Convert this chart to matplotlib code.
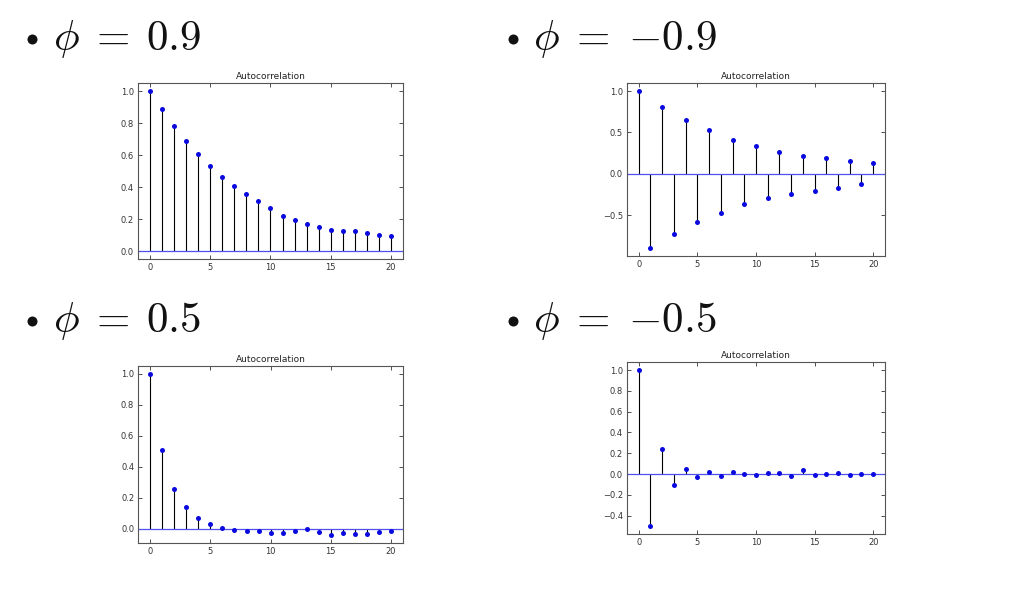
import matplotlib
matplotlib.use('Agg')
import matplotlib.pyplot as plt

plt.rcParams['mathtext.fontset'] = 'cm'

lags = list(range(21))

# autocorrelation values
acf_p09 = [1.0, 0.888, 0.783, 0.690, 0.606, 0.531, 0.462, 0.404, 0.356, 0.310, 0.267,
           0.221, 0.194, 0.167, 0.148, 0.133, 0.123, 0.123, 0.112, 0.102, 0.092]
acf_m09 = [1.0, -0.899, 0.806, -0.722, 0.649, -0.577, 0.528, -0.468, 0.411, -0.363, 0.331,
           -0.290, 0.262, -0.242, 0.218, -0.206, 0.185, -0.169, 0.149, -0.125, 0.125]
acf_p05 = [1.0, 0.510, 0.256, 0.138, 0.071, 0.030, 0.004, -0.006, -0.011, -0.015, -0.028,
           -0.028, -0.011, 0.0, -0.017, -0.037, -0.028, -0.032, -0.032, -0.017, -0.011]
acf_m05 = [1.0, -0.505, 0.240, -0.109, 0.051, -0.029, 0.016, -0.016, 0.016, 0.0, -0.006,
           0.010, 0.010, -0.019, 0.038, -0.006, 0.0, 0.010, -0.010, 0.0, 0.0]

headings = [r'$\phi\;=\:0.9$', r'$\phi\;=\;{-}0.9$', r'$\phi\;=\:0.5$', r'$\phi\;=\;{-}0.5$']
xticks = [0, 5, 10, 15, 20]
yticks = [[0.0, 0.2, 0.4, 0.6, 0.8, 1.0],
          [-0.5, 0.0, 0.5, 1.0],
          [0.0, 0.2, 0.4, 0.6, 0.8, 1.0],
          [-0.4, -0.2, 0.0, 0.2, 0.4, 0.6, 0.8, 1.0]]
series = [acf_p09, acf_m09, acf_p05, acf_m05]

fig = plt.figure(figsize=(10.36, 5.9), dpi=100)

# axes boxes [left, bottom, width, height] in figure fraction
boxes = [[0.1332, 0.561, 0.2558, 0.298],
         [0.6052, 0.566, 0.249, 0.293],
         [0.1335, 0.0802, 0.2553, 0.300],
         [0.6052, 0.0944, 0.249, 0.2915]]
# heading anchors: bullet centre x, text left x, baseline y
head_pos = [(0.0309, 0.0515, 0.9150), (0.4952, 0.5145, 0.9150),
            (0.0309, 0.0515, 0.4370), (0.4952, 0.5145, 0.4370)]

for i in range(4):
    ax = fig.add_axes(boxes[i])
    vals = series[i]
    ax.vlines(lags, 0, vals, color='black', linewidth=0.8)
    ax.axhline(0, color='#5050f0', linewidth=0.9)
    ax.plot(lags, vals, 'o', color='#0a0ae0', markersize=3.6, markeredgewidth=0)
    lo = min(min(vals), 0)
    hi = max(vals)
    pad = (hi - lo) * 0.05
    ax.set_ylim(lo - pad, hi + pad)
    ax.set_xlim(-1, 21)
    ax.set_xticks(xticks)
    ax.set_yticks(yticks[i])
    ax.set_yticklabels(['%.1f' % v if v >= 0 else '\u2212%.1f' % -v for v in yticks[i]])
    ax.tick_params(direction='in', length=3, width=0.6, labelsize=6, top=True, right=True,
                   colors='#333333', pad=3)
    for s in ax.spines.values():
        s.set_color('#555555')
        s.set_linewidth(0.8)
    ax.set_title('Autocorrelation', fontsize=6.5, pad=3, color='#222222')

    bx, tx, hy = head_pos[i]
    # bullet drawn as a round marker at mid-height of the heading
    fig.add_artist(plt.Line2D([bx], [hy + 0.0186], marker='o', markersize=7.2,
                              color='#111111', markeredgewidth=0, linestyle='none',
                              transform=fig.transFigure))
    fig.text(tx, hy, headings[i], fontsize=31, va='baseline', ha='left', color='#111111')

fig.savefig('out.png', dpi=100, facecolor='white')
